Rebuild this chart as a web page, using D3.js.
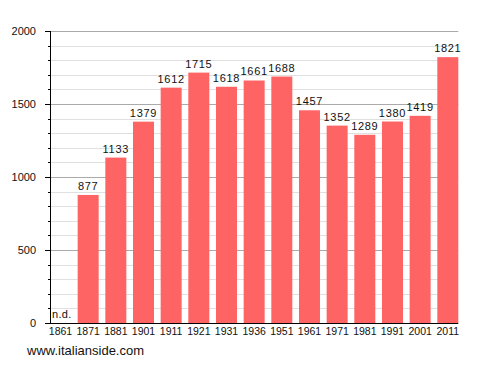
<!DOCTYPE html>
<html>
<head>
<meta charset="utf-8">
<script src="https://cdn.jsdelivr.net/npm/d3@7"></script>
<style>
  body { margin: 0; background: #fff; }
  text { font-family: "Liberation Sans", Arial, sans-serif; }
</style>
</head>
<body>
<div id="chart"></div>
<script>
// data
const years = ["1861", "1871", "1881", "1901", "1911", "1921", "1931", "1936",
               "1951", "1961", "1971", "1981", "1991", "2001", "2011"];
const population = [null, 877, 1133, 1379, 1612, 1715, 1618, 1661,
                    1688, 1457, 1352, 1289, 1380, 1419, 1821];
const yTicks = [0, 500, 1000, 1500, 2000];

// constants
const width = 488, height = 373;
const plotLeft = 50, plotRight = 458.3, plotTop = 31, plotBottom = 323;
const barColor = "#ff6464";

const svg = d3.select("#chart")
  .append("svg")
  .attr("width", width)
  .attr("height", height);

const x = d3.scaleBand()
  .domain(years)
  .range([plotLeft, plotRight])
  .paddingInner(0.241)
  .paddingOuter(0);

const y = d3.scaleLinear()
  .domain([0, 2000])
  .range([plotBottom, plotTop]);

// minor grid every 100
svg.append("g")
  .selectAll("line")
  .data(d3.range(100, 2000, 100).filter(v => v % 500 !== 0))
  .join("line")
  .attr("x1", plotLeft).attr("x2", plotRight)
  .attr("y1", d => Math.round(y(d)) + 0.5)
  .attr("y2", d => Math.round(y(d)) + 0.5)
  .attr("stroke", "#e0e0e0");

// major grid every 500
svg.append("g")
  .selectAll("line")
  .data(yTicks.filter(v => v > 0))
  .join("line")
  .attr("x1", plotLeft).attr("x2", plotRight)
  .attr("y1", d => Math.round(y(d)) + 0.5)
  .attr("y2", d => Math.round(y(d)) + 0.5)
  .attr("stroke", "#aaaaaa");

const rows = years.map((yr, i) => ({year: yr, value: population[i]}));

// bars
svg.append("g")
  .selectAll("rect")
  .data(rows.filter(d => d.value != null))
  .join("rect")
  .attr("x", d => x(d.year))
  .attr("y", d => y(d.value))
  .attr("width", x.bandwidth())
  .attr("height", d => y(0) - y(d.value))
  .attr("fill", barColor);

// value labels
svg.append("g")
  .selectAll("text")
  .data(rows)
  .join("text")
  .attr("x", d => d.value == null ? x(d.year) + 2 : x(d.year) + x.bandwidth() / 2)
  .attr("y", d => d.value == null ? y(0) - 5 : y(d.value) - 5)
  .attr("text-anchor", d => d.value == null ? "start" : "middle")
  .attr("font-size", 11)
  .attr("letter-spacing", d => d.value == null ? 0.3 : 0.7)
  .attr("fill", "#111")
  .text(d => d.value == null ? "n.d." : d.value);

// y axis ticks (minor + major)
svg.append("g")
  .selectAll("line")
  .data(d3.range(0, 2001, 100))
  .join("line")
  .attr("x1", d => d % 500 === 0 ? plotLeft - 5 : plotLeft - 2)
  .attr("x2", plotLeft)
  .attr("y1", d => Math.round(y(d)) + 0.5)
  .attr("y2", d => Math.round(y(d)) + 0.5)
  .attr("stroke", "#000");

svg.append("g")
  .selectAll("text")
  .data(yTicks)
  .join("text")
  .attr("x", 36)
  .attr("y", d => y(d) + 4)
  .attr("text-anchor", "end")
  .attr("font-size", 11)
  .attr("fill", "#111")
  .text(d => d);

// axis lines
svg.append("line")
  .attr("x1", plotLeft + 0.5).attr("x2", plotLeft + 0.5)
  .attr("y1", plotTop).attr("y2", plotBottom)
  .attr("stroke", "#000");
svg.append("line")
  .attr("x1", plotLeft - 3).attr("x2", plotRight)
  .attr("y1", plotBottom + 0.5).attr("y2", plotBottom + 0.5)
  .attr("stroke", "#000");

// year labels
svg.append("g")
  .selectAll("text")
  .data(years)
  .join("text")
  .attr("x", d => x(d) + x.bandwidth() / 2)
  .attr("y", 335)
  .attr("text-anchor", "middle")
  .attr("font-size", 10.5)
  .attr("fill", "#111")
  .text(d => d);

// footer
svg.append("text")
  .attr("x", 27)
  .attr("y", 355)
  .attr("font-size", 13)
  .attr("fill", "#111")
  .text("www.italianside.com");
</script>
</body>
</html>
